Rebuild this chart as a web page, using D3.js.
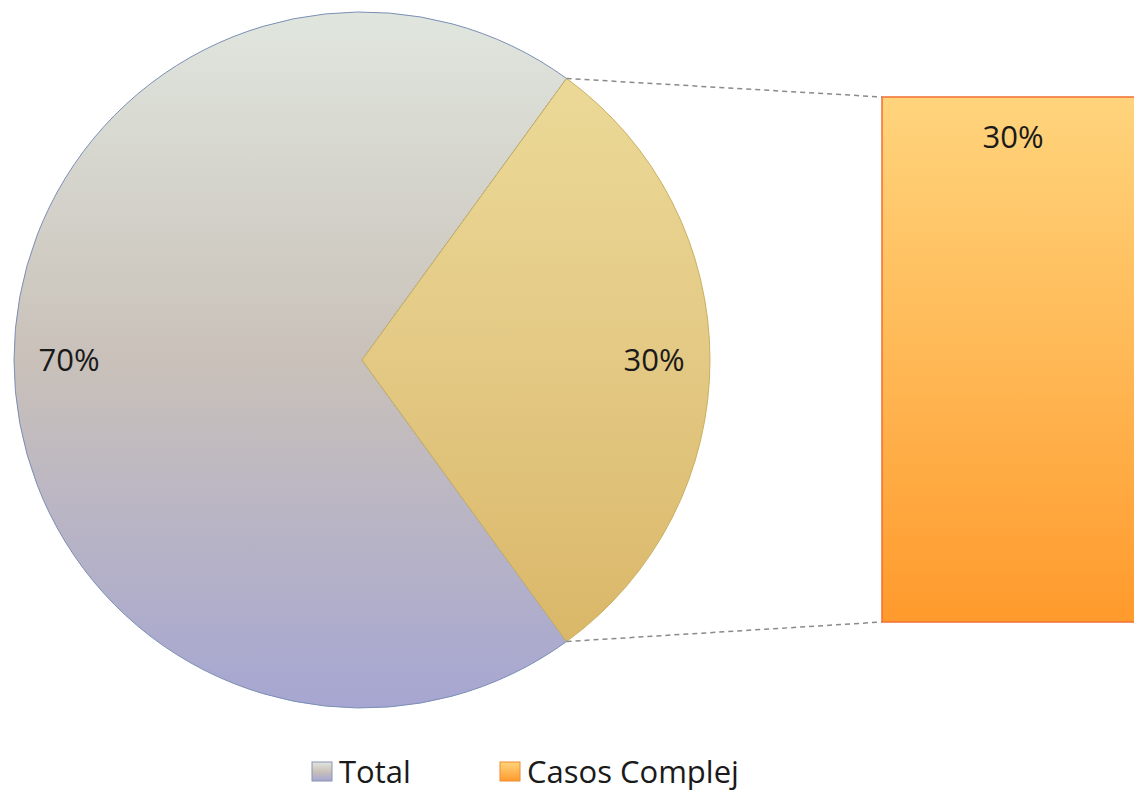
<!DOCTYPE html>
<html>
<head>
<meta charset="utf-8">
<script src="https://cdn.jsdelivr.net/npm/d3@7"></script>
<style>
  body { margin: 0; background: #fff; }
  svg { display: block; }
  text { font-family: "Open Sans", "Noto Sans", sans-serif; fill: #1a1a1a; }
</style>
</head>
<body>
<div id="chart"></div>
<script>
// données
const categories = ["Total", "Casos Complej"];
const pieLabels = ["70%", "30%"];
const pieValues = [70, 30];
const barValues = [30];
const barLabels = ["30%"];

const width = 1134, height = 795;
const cx = 362, cy = 360, radius = 348;

const svg = d3.select("#chart").append("svg")
  .attr("width", width).attr("height", height);

const defs = svg.append("defs");

// dégradés verticaux
function gradient(id, y1, y2, stops, units) {
  const gr = defs.append("linearGradient").attr("id", id)
    .attr("gradientUnits", units || "userSpaceOnUse")
    .attr("x1", 0).attr("x2", 0).attr("y1", y1).attr("y2", y2);
  stops.forEach(s => gr.append("stop").attr("offset", s[0]).attr("stop-color", s[1]));
}
const totalStops = [[0, "#e0e6de"], [0.5, "#c9c1b9"], [1, "#a6a6d2"]];
const sliceStops = [[0, "#eedd9c"], [0.5, "#e3c984"], [1, "#d8b362"]];
const barStops = [[0, "#ffd47c"], [0.5, "#ffb855"], [1, "#ff9a2c"]];
gradient("gTotal", -radius, radius, totalStops);
gradient("gSlice", -radius, radius, sliceStops);
gradient("gBar", 97, 622, barStops);
gradient("gLegTotal", 0, 1, totalStops, "objectBoundingBox");
gradient("gLegCasos", 0, 1, barStops, "objectBoundingBox");

// camembert : la part de 30% centrée sur 3 heures
const pie = d3.pie().sort(null)
  .startAngle(Math.PI / 2 + Math.PI * 0.3)
  .endAngle(Math.PI / 2 + Math.PI * 0.3 + 2 * Math.PI);
const arcs = pie(pieValues);
const arc = d3.arc().innerRadius(0).outerRadius(radius);

const g = svg.append("g").attr("transform", `translate(${cx},${cy})`);
g.selectAll("path").data(arcs).enter().append("path")
  .attr("d", arc)
  .attr("fill", (d, i) => i === 0 ? "url(#gTotal)" : "url(#gSlice)")
  .attr("stroke", (d, i) => i === 0 ? "#7b8fb5" : "#c9b060")
  .attr("stroke-width", 1);

// étiquettes du camembert
g.selectAll(".pie-label").data(arcs).enter().append("text")
  .attr("class", "pie-label")
  .attr("x", (d, i) => i === 0 ? -cx + 69 : 292)
  .attr("y", 0)
  .attr("dy", "0.35em")
  .attr("text-anchor", "middle")
  .style("font-size", "31px")
  .text((d, i) => pieLabels[i]);

// barre
const x = d3.scaleBand().domain(["Casos Complej"]).range([882, 1142]).padding(0);
const y = d3.scaleLinear().domain([0, d3.sum(barValues)]).range([622, 97]);

svg.selectAll(".bar").data(barValues).enter().append("rect")
  .attr("class", "bar")
  .attr("x", x("Casos Complej"))
  .attr("width", x.bandwidth())
  .attr("y", d => y(d))
  .attr("height", d => y(0) - y(d))
  .attr("fill", "url(#gBar)")
  .attr("stroke", "#f07030")
  .attr("stroke-width", 1.5);

svg.selectAll(".bar-label").data(barValues).enter().append("text")
  .attr("class", "bar-label")
  .attr("x", 1013)
  .attr("y", d => y(d) + 40)
  .attr("dy", "0.35em")
  .attr("text-anchor", "middle")
  .style("font-size", "31px")
  .text((d, i) => barLabels[i]);

// lignes de liaison
const slice = arcs[1];
const p1 = [cx + radius * Math.sin(slice.startAngle), cy - radius * Math.cos(slice.startAngle)];
const p2 = [cx + radius * Math.sin(slice.endAngle), cy - radius * Math.cos(slice.endAngle)];
const links = [[p1, [x("Casos Complej"), y(barValues[0])]], [p2, [x("Casos Complej"), y(0)]]];
svg.selectAll(".link").data(links).enter().append("line")
  .attr("class", "link")
  .attr("x1", d => d[0][0]).attr("y1", d => d[0][1])
  .attr("x2", d => d[1][0]).attr("y2", d => d[1][1])
  .attr("stroke", "#8a8a8a")
  .attr("stroke-width", 1.5)
  .attr("stroke-dasharray", "5,4");

// légende
const legendFill = ["url(#gLegTotal)", "url(#gLegCasos)"];
const legX = [312, 500];
const leg = svg.selectAll(".legend").data(categories).enter().append("g")
  .attr("class", "legend")
  .attr("transform", (d, i) => `translate(${legX[i]},762)`);
leg.append("rect")
  .attr("width", 20).attr("height", 19)
  .attr("fill", (d, i) => legendFill[i])
  .attr("stroke", (d, i) => i === 0 ? "#8a94b0" : "#f08a30")
  .attr("stroke-width", 1);
leg.append("text")
  .attr("x", 27).attr("y", 10)
  .attr("dy", "0.35em")
  .style("font-size", "31px")
  .text(d => d);
</script>
</body>
</html>
